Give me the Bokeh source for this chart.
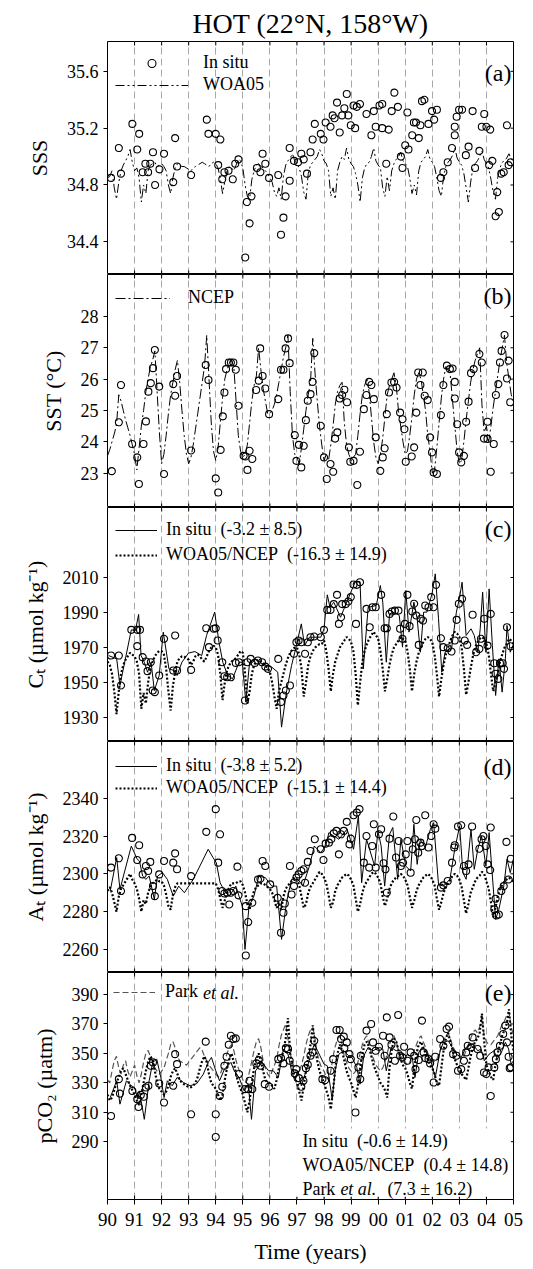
import numpy as np
from bokeh.plotting import figure
from bokeh.layouts import column
from bokeh.models import (Range1d, FixedTicker, Grid, Legend, LegendItem,
                          Label, BoxAnnotation)
from bokeh.embed import file_html
from bokeh.resources import INLINE

FONT = "Liberation Serif"

# ---------------- axis / tick data ----------------
years = list(range(1990, 2006))
year_labels = ["90", "91", "92", "93", "94", "95", "96", "97", "98", "99",
               "00", "01", "02", "03", "04", "05"]
t_month = 1990 + np.arange(181) / 12.0

# ---------------- (a) SSS ----------------
sss_t = [1990.13, 1990.42, 1990.50, 1990.92, 1991.10, 1991.17, 1991.30, 1991.40, 1991.50,
         1991.58, 1991.68, 1991.76, 1991.92, 1992.09, 1992.43, 1992.50, 1992.57, 1993.09, 1993.67,
         1993.73, 1994.00, 1994.09, 1994.17, 1994.24, 1994.32, 1994.47, 1994.63, 1994.72, 1994.84,
         1995.09, 1995.15, 1995.25, 1995.32, 1995.52, 1995.65, 1995.73, 1995.83, 1995.97, 1996.31,
         1996.41, 1996.50, 1996.58, 1996.73, 1996.73, 1996.89, 1997.04, 1997.16, 1997.25, 1997.37,
         1997.50, 1997.58, 1997.66, 1997.88, 1997.98, 1998.06, 1998.24, 1998.32, 1998.39, 1998.48,
         1998.58, 1998.67, 1998.75, 1998.84, 1998.90, 1998.99, 1999.09, 1999.15, 1999.21, 1999.33,
         1999.57, 1999.75, 1999.84, 1999.91, 2000.05, 2000.15, 2000.15, 2000.30, 2000.39, 2000.50,
         2000.60, 2000.73, 2000.84, 2000.90, 2001.00, 2001.08, 2001.12, 2001.26, 2001.32, 2001.40,
         2001.50, 2001.56, 2001.62, 2001.71, 2001.86, 2001.99, 2002.07, 2002.17, 2002.32, 2002.41,
         2002.57, 2002.73, 2002.83, 2002.83, 2002.90, 2002.99, 2003.10, 2003.24, 2003.34, 2003.49,
         2003.58, 2003.74, 2003.83, 2003.92, 2004.00, 2004.10, 2004.14, 2004.22, 2004.34, 2004.40,
         2004.46, 2004.55, 2004.64, 2004.76, 2004.82, 2004.90]
sss_v = [34.85, 35.06, 34.88, 35.23, 35.05, 35.16, 34.89, 34.95, 34.89,
         34.95, 35.03, 34.80, 34.91, 35.02, 34.82, 35.13, 34.93, 34.87, 35.26,
         35.16, 35.16, 34.94, 35.12, 34.84, 34.89, 34.90, 34.84, 34.95, 34.98,
         34.29, 34.68, 34.53, 34.72, 34.92, 34.89, 35.02, 34.95, 34.85, 34.87,
         34.45, 34.57, 34.72, 34.83, 35.06, 34.97, 34.96, 35.02, 34.98, 34.88,
         35.03, 35.12, 35.23, 35.16, 35.12, 35.24, 35.21, 35.29, 35.27, 35.38,
         35.17, 35.29, 35.34, 35.44, 35.29, 35.22, 35.36, 35.20, 35.35, 35.37,
         35.30, 35.15, 35.32, 35.21, 35.36, 35.37, 35.20, 34.95, 35.19, 35.32,
         35.45, 35.35, 35.00, 34.92, 35.08, 35.31, 35.05, 35.15, 35.24, 35.24,
         35.13, 35.22, 35.39, 35.40, 35.23, 35.32, 35.26, 35.33, 34.85, 34.89,
         34.96, 35.06, 35.15, 35.21, 35.28, 35.33, 35.33, 35.01, 35.07, 35.32,
         34.92, 35.04, 35.21, 35.30, 35.21, 34.94, 35.19, 34.97, 34.58, 34.75,
         34.61, 34.88, 34.89, 35.22, 34.94, 34.96]
sss_woa05 = [
    34.85, 34.86, 34.90, 34.78, 34.70, 34.82, 34.90, 34.94, 34.97, 35.00, 35.05, 34.96,
    34.90, 34.92, 34.85, 34.68, 34.80, 34.74, 34.90, 34.94, 34.95, 34.96, 34.93, 34.94,
    34.95, 34.93, 34.90, 34.80, 34.74, 34.85, 34.92, 34.95, 34.94, 34.93, 34.93, 34.92,
    34.91, 34.90, 34.92, 34.93, 34.94, 34.95, 34.96, 34.95, 34.94, 34.93, 34.95, 34.96,
    34.95, 34.92, 34.85, 34.74, 34.82, 34.90, 34.93, 34.92, 34.90, 34.94, 34.98, 34.97,
    34.92, 34.80, 34.72, 34.70, 34.84, 34.90, 34.94, 34.95, 34.93, 34.92, 34.90, 34.88,
    34.85, 34.82, 34.75, 34.72, 34.78, 34.70, 34.86, 34.94, 34.97, 34.99, 35.02, 34.97,
    34.95, 34.92, 34.86, 34.75, 34.70, 34.88, 34.94, 34.96, 34.98, 35.00, 35.05, 35.02,
    34.97, 34.95, 34.90, 34.72, 34.78, 34.70, 34.90, 34.96, 35.00, 34.98, 35.06, 34.98,
    34.95, 34.93, 34.88, 34.80, 34.68, 34.85, 34.92, 34.95, 34.96, 35.00, 35.06, 34.97,
    34.94, 34.92, 34.78, 34.72, 34.86, 34.76, 34.90, 34.95, 34.98, 35.00, 35.03, 34.97,
    34.95, 34.93, 34.85, 34.74, 34.80, 34.73, 34.90, 34.96, 34.98, 35.00, 35.05, 34.98,
    34.96, 34.93, 34.85, 34.76, 34.72, 34.86, 34.93, 34.96, 34.98, 35.01, 35.06, 34.99,
    34.96, 34.94, 34.88, 34.78, 34.68, 34.82, 34.92, 34.95, 34.97, 35.00, 35.04, 34.98,
    34.95, 34.92, 34.84, 34.75, 34.70, 34.85, 34.92, 34.96, 34.97, 34.99, 35.02, 34.98,
    34.97]

# ---------------- (b) SST ----------------
sst_t = [1990.16, 1990.42, 1990.50, 1990.91, 1991.10, 1991.16, 1991.33, 1991.42, 1991.51, 1991.60,
         1991.68, 1991.75, 1991.91, 1992.09, 1992.43, 1992.50, 1992.57, 1993.09, 1993.63, 1993.73,
         1994.00, 1994.09, 1994.18, 1994.26, 1994.32, 1994.38, 1994.48, 1994.56, 1994.65, 1994.74,
         1994.84, 1995.03, 1995.10, 1995.17, 1995.25, 1995.35, 1995.49, 1995.59, 1995.64, 1995.73,
         1995.83, 1995.97, 1996.31, 1996.41, 1996.50, 1996.58, 1996.67, 1996.73, 1996.92, 1996.98,
         1997.07, 1997.16, 1997.25, 1997.33, 1997.40, 1997.50, 1997.58, 1997.64, 1997.88, 1998.00,
         1998.10, 1998.24, 1998.34, 1998.41, 1998.49, 1998.58, 1998.67, 1998.75, 1998.85, 1998.92,
         1998.97, 1999.09, 1999.23, 1999.33, 1999.47, 1999.57, 1999.67, 1999.75, 1999.84, 1999.91,
         2000.08, 2000.17, 2000.24, 2000.32, 2000.40, 2000.49, 2000.59, 2000.68, 2000.81, 2000.90,
         2000.97, 2001.02, 2001.24, 2001.33, 2001.41, 2001.48, 2001.56, 2001.65, 2001.72, 2001.83,
         2001.92, 2001.99, 2002.05, 2002.17, 2002.32, 2002.41, 2002.54, 2002.65, 2002.75, 2002.83,
         2002.83, 2002.92, 2002.99, 2003.07, 2003.17, 2003.25, 2003.34, 2003.43, 2003.53, 2003.74,
         2003.83, 2003.91, 2004.04, 2004.04, 2004.16, 2004.27, 2004.35, 2004.44, 2004.50, 2004.56,
         2004.67, 2004.76, 2004.82, 2004.88]
sst_v = [23.06, 24.62, 25.81, 23.93, 23.50, 22.65, 23.93, 24.65, 25.60, 25.87,
         26.35, 26.93, 25.76, 22.97, 25.84, 25.47, 26.10, 23.72, 26.45, 25.97,
         22.83, 22.38, 23.74, 24.81, 25.57, 26.32, 26.53, 26.53, 26.53, 26.30,
         25.15, 23.55, 23.53, 23.10, 23.71, 23.45, 25.65, 25.95, 26.98, 26.10,
         25.70, 24.88, 25.36, 26.30, 26.30, 26.98, 27.30, 26.51, 24.21, 23.39,
         23.90, 23.18, 23.87, 24.69, 25.31, 25.52, 25.91, 26.83, 24.51, 23.50,
         22.81, 23.29, 23.04, 24.10, 24.30, 25.38, 25.49, 25.66, 25.26, 23.82,
         23.36, 23.39, 22.62, 23.68, 25.04, 25.49, 25.91, 25.81, 25.36, 24.14,
         23.07, 23.50, 23.79, 24.88, 25.57, 25.89, 25.91, 25.73, 24.93, 24.72,
         24.40, 23.36, 23.53, 23.82, 24.93, 26.21, 25.81, 26.21, 25.47, 25.33,
         24.14, 23.66, 23.02, 22.97, 24.85, 25.81, 26.43, 26.32, 26.34, 25.91,
         25.38, 24.56, 23.66, 23.34, 23.55, 24.64, 25.28, 26.19, 26.32, 26.80,
         26.53, 24.10, 24.64, 24.09, 23.04, 23.93, 25.49, 25.84, 26.53, 26.90,
         27.41, 26.02, 26.59, 25.26]
sst_ncep = [
    23.55, 23.75, 24.00, 24.25, 24.55, 25.50, 25.30, 25.00, 24.70, 24.45, 24.20, 23.90,
    23.60, 23.10, 23.80, 24.50, 25.00, 25.60, 26.00, 26.40, 26.60, 26.90, 25.60, 24.30,
    23.30, 23.60, 24.20, 24.90, 25.50, 25.90, 26.30, 26.60, 25.90, 25.00, 24.20, 23.60,
    23.30, 23.50, 23.90, 24.40, 24.90, 25.40, 25.90, 26.40, 27.40, 26.00, 24.60, 23.70,
    23.40, 23.80, 24.60, 25.40, 26.00, 26.30, 26.50, 26.60, 26.40, 25.30, 24.20, 23.70,
    23.50, 23.60, 23.90, 24.60, 25.30, 25.80, 26.10, 27.00, 26.30, 25.70, 25.30, 24.90,
    24.90, 25.00, 25.20, 25.50, 25.90, 26.30, 26.70, 27.00, 27.40, 25.60, 24.20, 23.60,
    23.50, 23.30, 23.80, 24.40, 25.00, 25.50, 25.90, 27.30, 26.20, 25.30, 24.50, 23.90,
    23.40, 23.60, 23.40, 23.90, 24.50, 25.20, 25.60, 25.80, 25.90, 24.60, 23.90, 23.60,
    23.40, 23.50, 23.60, 24.20, 24.90, 25.50, 25.80, 26.00, 25.60, 24.80, 24.00, 23.50,
    23.30, 23.60, 24.10, 24.80, 25.50, 25.80, 26.00, 26.20, 25.80, 25.00, 24.50, 24.00,
    23.60, 23.70, 24.20, 24.80, 25.50, 26.00, 26.20, 26.00, 25.50, 25.00, 24.20, 23.70,
    23.00, 23.10, 23.80, 24.60, 25.40, 26.00, 26.40, 26.30, 26.10, 25.30, 24.50, 23.70,
    23.30, 23.40, 24.00, 24.70, 25.30, 25.90, 26.30, 26.60, 26.80, 27.00, 25.20, 24.30,
    24.50, 24.00, 24.50, 25.10, 25.60, 26.10, 26.60, 27.00, 27.40, 26.50, 26.00, 25.50,
    25.30]

# ---------------- (c) CT ----------------
ct_t = [1990.13, 1990.42, 1990.50, 1990.88, 1991.10, 1991.10, 1991.20, 1991.30, 1991.42, 1991.48,
        1991.60, 1991.67, 1991.75, 1991.91, 1992.09, 1992.43, 1992.50, 1992.57, 1993.09, 1993.65,
        1993.75, 1993.93, 1994.00, 1994.07, 1994.24, 1994.32, 1994.42, 1994.56, 1994.74, 1994.86,
        1995.08, 1995.17, 1995.29, 1995.44, 1995.56, 1995.71, 1995.83, 1995.93, 1996.31, 1996.41,
        1996.50, 1996.59, 1996.74, 1996.89, 1996.98, 1997.06, 1997.16, 1997.30, 1997.40, 1997.50,
        1997.64, 1997.88, 1998.00, 1998.12, 1998.24, 1998.36, 1998.48, 1998.55, 1998.63, 1998.67,
        1998.80, 1998.90, 1998.99, 1999.09, 1999.18, 1999.21, 1999.33, 1999.57, 1999.69, 1999.79,
        1999.91, 2000.11, 2000.24, 2000.32, 2000.42, 2000.51, 2000.62, 2000.75, 2000.81, 2000.90,
        2000.99, 2001.08, 2001.16, 2001.26, 2001.33, 2001.41, 2001.50, 2001.58, 2001.66, 2001.74,
        2001.86, 2001.96, 2002.05, 2002.14, 2002.32, 2002.41, 2002.57, 2002.71, 2002.83, 2002.90,
        2002.98, 2003.10, 2003.20, 2003.29, 2003.49, 2003.62, 2003.74, 2003.80, 2003.92, 2004.04,
        2004.16, 2004.29, 2004.34, 2004.44, 2004.50, 2004.60, 2004.65, 2004.76, 2004.89]
ct_v = [1965.4, 1965.4, 1948.3, 1980.1, 1980.1, 1970.8, 1980.1, 1964.5, 1962.0, 1956.5,
        1961.6, 1945.4, 1944.5, 1954.0, 1975.0, 1956.9, 1976.9, 1956.9, 1957.2, 1981.0,
        1970.2, 1980.7, 1981.0, 1974.0, 1961.6, 1953.6, 1953.0, 1953.0, 1961.2, 1961.6,
        1939.7, 1961.6, 1963.5, 1961.2, 1962.6, 1961.6, 1959.1, 1957.8, 1963.5, 1938.8,
        1942.6, 1945.4, 1948.3, 1966.4, 1973.0, 1974.0, 1973.0, 1966.4, 1973.0, 1975.9,
        1976.3, 1975.9, 1980.1, 1991.5, 1991.5, 1994.8, 2000.1, 1983.5, 1987.3, 1994.8,
        1994.8, 1996.3, 1998.8, 2006.0, 1983.5, 2005.8, 2007.3, 1992.1, 1981.6, 1993.0,
        1993.0, 2000.1, 1981.0, 1981.0, 1989.2, 1990.6, 1991.1, 1991.1, 1980.7, 1975.0,
        1983.5, 2000.1, 1982.2, 1990.6, 1995.0, 1988.3, 1971.5, 1986.4, 1985.4, 1994.0,
        1993.0, 1998.8, 1993.0, 2005.8, 1975.3, 1970.2, 1969.6, 1967.7, 1974.0, 1985.8,
        1995.0, 1997.8, 1974.0, 1971.5, 1988.7, 1967.3, 1969.2, 1975.0, 1986.4, 1971.1,
        1989.2, 1961.0, 1955.0, 1952.1, 1961.0, 1961.0, 1957.8, 1981.6, 1970.7]
ctm_t = [1990.04, 1990.34, 1990.46, 1990.88, 1991.03, 1991.15, 1991.24, 1991.36, 1991.48, 1991.61,
         1991.73, 1991.91, 1992.06, 1992.27, 1992.45, 1992.57, 1992.75, 1992.99, 1993.23, 1993.48,
         1993.66, 1993.96, 1994.12, 1994.26, 1994.44, 1994.62, 1994.86, 1994.98, 1995.11, 1995.25,
         1995.47, 1995.71, 1995.89, 1996.07, 1996.29, 1996.43, 1996.61, 1996.80, 1996.92, 1997.16,
         1997.28, 1997.46, 1997.64, 1997.88, 1998.00, 1998.12, 1998.22, 1998.36, 1998.46, 1998.61,
         1998.85, 1998.99, 1999.15, 1999.33, 1999.45, 1999.63, 1999.93, 2000.08, 2000.17, 2000.30,
         2000.42, 2000.60, 2000.78, 2000.90, 2001.02, 2001.14, 2001.32, 2001.44, 2001.56, 2001.68,
         2001.80, 2001.99, 2002.11, 2002.23, 2002.35, 2002.47, 2002.71, 2002.89, 2003.01, 2003.10,
         2003.25, 2003.43, 2003.55, 2003.68, 2003.77, 2003.86, 2003.98, 2004.10, 2004.22, 2004.34,
         2004.46, 2004.58, 2004.70, 2004.76, 2004.88, 2005.00]
ctm_v = [1965.4, 1963.5, 1948.3, 1980.1, 1979.7, 1988.9, 1965.4, 1961.6, 1955.9, 1961.6,
         1945.4, 1954.0, 1978.8, 1957.8, 1956.9, 1954.0, 1961.6, 1966.8, 1967.7, 1965.4,
         1976.9, 1990.2, 1973.0, 1961.6, 1954.0, 1952.1, 1961.6, 1961.6, 1938.8, 1961.6,
         1963.5, 1960.7, 1959.7, 1958.8, 1955.9, 1924.5, 1944.5, 1959.7, 1967.3, 1983.5,
         1971.1, 1975.9, 1975.9, 1975.9, 1980.7, 2000.1, 1993.0, 1995.9, 1992.5, 1987.3,
         1996.3, 2001.6, 2007.3, 2007.7, 1957.8, 1993.0, 1994.0, 2005.4, 1995.9, 1961.6,
         1989.2, 1990.2, 1988.3, 1970.2, 2002.6, 1978.8, 1995.9, 1986.4, 1967.3, 1990.2,
         1990.2, 2000.7, 2012.1, 1986.4, 1955.9, 1967.3, 1969.2, 1990.2, 1998.8, 2007.3,
         1976.9, 1980.7, 1976.9, 1967.3, 1980.7, 2001.6, 1967.3, 2003.5, 1971.1, 1942.6,
         1963.5, 1944.5, 1963.5, 1982.6, 1967.3, 1972.0]
ct_woa = [
    1962, 1960, 1955, 1945, 1932, 1945, 1955, 1960, 1963, 1965, 1967, 1966,
    1965, 1962, 1955, 1935, 1944, 1938, 1950, 1958, 1962, 1965, 1967, 1968,
    1968, 1966, 1958, 1945, 1934, 1948, 1956, 1962, 1964, 1965, 1965, 1964,
    1963, 1960, 1962, 1965, 1966, 1965, 1963, 1962, 1965, 1968, 1970, 1971,
    1970, 1966, 1955, 1940, 1950, 1957, 1960, 1962, 1963, 1964, 1966, 1968,
    1967, 1955, 1938, 1945, 1955, 1960, 1962, 1963, 1962, 1961, 1960, 1958,
    1956, 1950, 1942, 1935, 1945, 1950, 1955, 1960, 1964, 1967, 1969, 1970,
    1970, 1966, 1958, 1942, 1950, 1960, 1965, 1968, 1970, 1971, 1972, 1972,
    1974, 1968, 1958, 1945, 1955, 1962, 1966, 1970, 1972, 1974, 1976, 1975,
    1973, 1968, 1955, 1937, 1950, 1962, 1968, 1972, 1975, 1977, 1979, 1977,
    1975, 1968, 1958, 1945, 1952, 1960, 1966, 1970, 1972, 1974, 1976, 1975,
    1974, 1968, 1958, 1945, 1955, 1962, 1967, 1970, 1973, 1975, 1976, 1975,
    1973, 1966, 1955, 1942, 1952, 1960, 1966, 1970, 1974, 1977, 1979, 1978,
    1976, 1970, 1958, 1943, 1950, 1958, 1965, 1970, 1973, 1975, 1976, 1975,
    1972, 1966, 1955, 1945, 1950, 1955, 1962, 1966, 1970, 1972, 1975, 1974,
    1972]

# ---------------- (d) AT ----------------
at_t = [1990.13, 1990.42, 1990.50, 1990.91, 1991.10, 1991.17, 1991.30, 1991.42, 1991.50, 1991.58,
        1991.68, 1991.75, 1991.91, 1992.09, 1992.43, 1992.50, 1992.57, 1993.09, 1993.65, 1994.00,
        1994.09, 1994.16, 1994.24, 1994.32, 1994.42, 1994.50, 1994.56, 1994.65, 1994.80, 1994.84,
        1995.11, 1995.11, 1995.20, 1995.35, 1995.56, 1995.65, 1995.73, 1995.83, 1996.01, 1996.29,
        1996.41, 1996.50, 1996.55, 1996.74, 1996.80, 1996.89, 1996.98, 1997.06, 1997.16, 1997.25,
        1997.30, 1997.40, 1997.50, 1997.66, 1997.88, 1997.98, 1998.06, 1998.18, 1998.27, 1998.36,
        1998.46, 1998.55, 1998.63, 1998.73, 1998.84, 1998.94, 1998.99, 1999.09, 1999.21, 1999.31,
        1999.47, 1999.57, 1999.67, 1999.78, 1999.84, 1999.91, 2000.03, 2000.11, 2000.20, 2000.27,
        2000.32, 2000.42, 2000.56, 2000.66, 2000.76, 2000.84, 2000.92, 2001.02, 2001.08, 2001.20,
        2001.28, 2001.36, 2001.41, 2001.48, 2001.56, 2001.62, 2001.74, 2001.86, 2001.96, 2002.05,
        2002.11, 2002.32, 2002.41, 2002.57, 2002.73, 2002.81, 2002.83, 2002.95, 2003.07, 2003.17,
        2003.25, 2003.34, 2003.47, 2003.74, 2003.82, 2003.89, 2003.98, 2004.04, 2004.14, 2004.16,
        2004.29, 2004.34, 2004.37, 2004.46, 2004.55, 2004.64, 2004.74, 2004.82, 2004.90]
at_v = [2303.3, 2308.2, 2290.9, 2319.0, 2307.3, 2315.1, 2299.7, 2304.1, 2301.5, 2306.3,
        2293.5, 2288.2, 2299.7, 2306.8, 2305.9, 2310.8, 2302.4, 2298.8, 2322.2, 2334.2,
        2305.9, 2320.9, 2290.9, 2289.6, 2290.0, 2283.8, 2290.0, 2290.9, 2303.8, 2288.6,
        2282.9, 2256.8, 2274.5, 2284.7, 2297.0, 2297.4, 2306.8, 2304.1, 2294.4, 2287.3,
        2268.8, 2279.4, 2284.3, 2304.1, 2289.1, 2293.5, 2298.0, 2299.7, 2301.5, 2302.4,
        2295.3, 2306.3, 2312.1, 2318.3, 2313.0, 2307.3, 2316.0, 2316.5, 2318.3, 2321.4,
        2322.7, 2310.3, 2320.9, 2322.7, 2327.5, 2315.6, 2318.6, 2331.0, 2332.4, 2334.2,
        2305.9, 2320.0, 2303.3, 2314.7, 2326.2, 2303.3, 2320.9, 2323.6, 2305.6, 2302.4,
        2290.0, 2318.6, 2330.3, 2308.6, 2317.4, 2304.1, 2305.9, 2310.3, 2317.4, 2300.6,
        2313.0, 2318.3, 2328.5, 2311.2, 2316.5, 2314.7, 2331.0, 2313.9, 2320.0, 2326.2,
        2323.9, 2292.7, 2293.9, 2296.2, 2305.9, 2313.9, 2315.1, 2325.0, 2325.7, 2304.1,
        2301.5, 2305.0, 2325.0, 2313.3, 2318.3, 2320.0, 2314.7, 2305.0, 2302.0, 2324.5,
        2281.2, 2286.8, 2278.0, 2278.5, 2290.9, 2293.5, 2316.9, 2297.0, 2308.0]
atm_t = [1990.10, 1990.34, 1990.46, 1990.88, 1991.10, 1991.18, 1991.30, 1991.42, 1991.54, 1991.73,
         1991.85, 1992.03, 1992.21, 1992.43, 1992.63, 1992.84, 1993.17, 1993.72, 1993.90, 1994.02,
         1994.16, 1994.32, 1994.50, 1994.74, 1994.86, 1994.98, 1995.08, 1995.23, 1995.41, 1995.59,
         1995.83, 1996.07, 1996.25, 1996.43, 1996.61, 1996.80, 1997.04, 1997.22, 1997.46, 1997.64,
         1997.88, 1998.06, 1998.18, 1998.36, 1998.55, 1998.85, 1999.09, 1999.27, 1999.39, 1999.57,
         1999.87, 1999.99, 2000.11, 2000.24, 2000.42, 2000.54, 2000.72, 2000.84, 2001.02, 2001.20,
         2001.32, 2001.44, 2001.56, 2001.74, 2001.93, 2002.05, 2002.23, 2002.41, 2002.65, 2002.83,
         2003.01, 2003.13, 2003.25, 2003.43, 2003.55, 2003.68, 2003.82, 2003.98, 2004.10, 2004.22,
         2004.34, 2004.46, 2004.64, 2004.76, 2004.88, 2005.00]
atm_v = [2290.9, 2308.6, 2291.8, 2314.7, 2307.7, 2306.8, 2298.8, 2297.1, 2298.8, 2286.5,
         2298.8, 2300.6, 2297.1, 2288.2, 2293.5, 2290.0, 2297.1, 2313.0, 2308.6, 2305.9,
         2295.3, 2290.9, 2288.2, 2293.5, 2288.2, 2282.9, 2260.0, 2282.9, 2288.2, 2298.8,
         2298.0, 2293.5, 2293.5, 2265.3, 2284.7, 2297.1, 2297.1, 2293.5, 2304.1, 2314.7,
         2311.2, 2314.7, 2321.8, 2320.0, 2318.3, 2323.6, 2313.0, 2330.6, 2295.3, 2318.3,
         2304.1, 2322.7, 2314.7, 2293.5, 2320.9, 2324.5, 2297.1, 2318.3, 2304.1, 2301.5,
         2326.2, 2305.0, 2318.3, 2313.9, 2323.6, 2327.1, 2294.4, 2293.5, 2297.1, 2313.0,
         2325.3, 2300.6, 2297.1, 2323.6, 2302.4, 2313.0, 2320.0, 2304.1, 2321.8, 2298.8,
         2275.9, 2281.2, 2293.5, 2307.7, 2300.6, 2308.0]
at_woa = [
    2291, 2293, 2290, 2285, 2280, 2288, 2292, 2294, 2296, 2298, 2300, 2297,
    2295, 2292, 2287, 2280, 2286, 2284, 2290, 2293, 2295, 2296, 2297, 2296,
    2296, 2294, 2289, 2283, 2281, 2289, 2293, 2295, 2295, 2295, 2295, 2295,
    2295, 2295, 2295, 2295, 2295, 2295, 2295, 2295, 2295, 2295, 2295, 2295,
    2295, 2292, 2287, 2282, 2286, 2290, 2293, 2295, 2295, 2295, 2296, 2296,
    2294, 2290, 2284, 2281, 2287, 2291, 2293, 2294, 2295, 2295, 2294, 2293,
    2292, 2290, 2286, 2282, 2285, 2281, 2288, 2292, 2294, 2295, 2297, 2298,
    2297, 2294, 2288, 2282, 2284, 2290, 2293, 2295, 2297, 2299, 2301, 2300,
    2298, 2295, 2289, 2282, 2285, 2291, 2294, 2296, 2298, 2299, 2300, 2299,
    2297, 2294, 2287, 2280, 2284, 2290, 2294, 2296, 2298, 2300, 2301, 2300,
    2298, 2295, 2288, 2283, 2287, 2292, 2295, 2297, 2298, 2299, 2300, 2299,
    2297, 2294, 2288, 2282, 2286, 2291, 2294, 2296, 2298, 2299, 2300, 2299,
    2297, 2294, 2287, 2281, 2285, 2290, 2293, 2295, 2297, 2299, 2300, 2299,
    2297, 2293, 2286, 2279, 2284, 2290, 2293, 2296, 2298, 2299, 2301, 2300,
    2296, 2292, 2285, 2277, 2282, 2288, 2292, 2294, 2296, 2297, 2298, 2297,
    2296]

# ---------------- (e) pCO2 ----------------
pc_t = [1990.13, 1990.42, 1990.46, 1990.92, 1991.10, 1991.15, 1991.23, 1991.34, 1991.42, 1991.51,
        1991.60, 1991.68, 1991.91, 1992.09, 1992.43, 1992.50, 1992.57, 1993.09, 1993.63, 1994.00,
        1994.00, 1994.15, 1994.24, 1994.32, 1994.40, 1994.48, 1994.56, 1994.65, 1994.74, 1994.86,
        1995.08, 1995.20, 1995.25, 1995.35, 1995.50, 1995.59, 1995.65, 1995.81, 1995.97, 1996.31,
        1996.41, 1996.50, 1996.59, 1996.67, 1996.73, 1996.92, 1996.98, 1997.07, 1997.16, 1997.24,
        1997.33, 1997.40, 1997.50, 1997.58, 1997.64, 1997.94, 1998.04, 1998.24, 1998.34, 1998.46,
        1998.58, 1998.63, 1998.73, 1998.75, 1998.84, 1998.94, 1998.99, 1999.16, 1999.27, 1999.34,
        1999.36, 1999.57, 1999.74, 1999.81, 1999.91, 2000.03, 2000.18, 2000.24, 2000.32, 2000.42,
        2000.49, 2000.62, 2000.74, 2000.81, 2000.90, 2000.96, 2001.08, 2001.20, 2001.33, 2001.38,
        2001.50, 2001.62, 2001.68, 2001.74, 2001.86, 2001.92, 2002.05, 2002.11, 2002.29, 2002.41,
        2002.53, 2002.62, 2002.77, 2002.89, 2002.95, 2003.07, 2003.17, 2003.25, 2003.31, 2003.44,
        2003.49, 2003.67, 2003.77, 2003.91, 2004.00, 2004.08, 2004.16, 2004.29, 2004.35, 2004.41,
        2004.50, 2004.62, 2004.70, 2004.76, 2004.82, 2004.86, 2004.90]
pc_v = [307.5, 332.5, 322.7, 324.5, 318.9, 313.6, 321.8, 320.5, 326.8, 328.0,
        341.6, 343.9, 329.5, 316.6, 328.0, 349.5, 342.7, 308.6, 358.0, 308.6,
        293.2, 321.1, 327.3, 341.6, 347.7, 355.9, 362.0, 359.8, 360.2, 336.0,
        325.7, 325.7, 331.4, 325.7, 343.2, 345.5, 341.6, 329.1, 327.3, 346.1,
        346.8, 343.2, 353.6, 352.9, 345.0, 336.4, 339.3, 333.2, 327.3, 331.4,
        340.0, 342.3, 348.4, 350.7, 358.6, 332.5, 331.8, 338.2, 346.1, 365.9,
        365.9, 359.8, 361.4, 353.6, 357.5, 349.5, 346.1, 309.8, 340.5, 332.5,
        348.4, 365.5, 370.0, 357.5, 351.8, 354.5, 362.0, 348.4, 374.5, 360.9,
        355.9, 345.0, 376.1, 348.4, 347.3, 354.5, 345.0, 350.7, 348.4, 339.3,
        345.5, 372.3, 350.7, 346.8, 346.1, 343.2, 330.2, 347.7, 359.8, 355.2,
        366.6, 368.2, 349.5, 348.4, 338.2, 339.3, 345.0, 350.7, 355.2, 354.1,
        360.9, 353.0, 348.4, 337.0, 336.0, 340.5, 321.1, 340.5, 346.1, 350.7,
        355.2, 363.2, 368.9, 357.5, 347.7, 340.0, 340.6]
pcm_t = [1990.10, 1990.34, 1990.46, 1990.70, 1990.88, 1991.00, 1991.12, 1991.18, 1991.36, 1991.54,
         1991.67, 1991.82, 1991.97, 1992.09, 1992.21, 1992.39, 1992.57, 1992.81, 1993.05, 1993.30,
         1993.54, 1993.72, 1993.84, 1994.00, 1994.14, 1994.32, 1994.56, 1994.68, 1994.86, 1995.05,
         1995.20, 1995.32, 1995.47, 1995.71, 1995.95, 1996.13, 1996.31, 1996.49, 1996.67, 1996.80,
         1996.92, 1997.04, 1997.16, 1997.34, 1997.52, 1997.64, 1997.76, 1998.00, 1998.12, 1998.30,
         1998.42, 1998.55, 1998.73, 1998.91, 1999.03, 1999.21, 1999.33, 1999.47, 1999.63, 1999.81,
         2000.05, 2000.17, 2000.30, 2000.48, 2000.66, 2000.84, 2000.96, 2001.08, 2001.26, 2001.36,
         2001.50, 2001.62, 2001.74, 2001.93, 2002.11, 2002.29, 2002.41, 2002.59, 2002.77, 2002.89,
         2003.07, 2003.25, 2003.49, 2003.68, 2003.80, 2003.92, 2004.10, 2004.28, 2004.40, 2004.58,
         2004.70, 2004.82, 2004.91, 2005.00]
pcm_v = [320.0, 331.4, 315.5, 331.4, 328.0, 326.8, 318.9, 324.5, 305.2, 331.4,
         343.9, 346.1, 333.6, 320.0, 331.4, 328.0, 333.6, 330.2, 328.0, 329.5,
         335.9, 343.9, 347.3, 338.2, 331.4, 339.3, 343.9, 338.2, 333.6, 324.5,
         329.1, 305.2, 338.2, 343.9, 338.2, 338.2, 333.6, 351.8, 349.5, 338.2,
         331.4, 338.2, 328.0, 338.2, 349.5, 356.4, 351.8, 342.7, 341.6, 318.9,
         339.3, 349.5, 351.8, 348.4, 347.3, 340.5, 329.1, 348.4, 354.1, 351.8,
         354.1, 353.0, 338.2, 354.1, 351.8, 351.8, 346.1, 349.5, 347.3, 333.6,
         350.7, 354.1, 351.8, 346.1, 333.6, 351.8, 357.5, 358.6, 353.0, 349.5,
         347.3, 354.1, 356.4, 351.8, 353.0, 345.0, 349.5, 351.8, 346.1, 351.8,
         357.5, 353.0, 342.7, 345.0]
pc_woa = [
    322, 318, 320, 325, 330, 334, 338, 340, 336, 332, 328, 325,
    322, 318, 315, 322, 330, 338, 344, 348, 346, 338, 330, 326,
    324, 322, 324, 328, 334, 338, 340, 336, 332, 330, 329, 328,
    327, 327, 328, 330, 334, 340, 345, 348, 344, 336, 330, 328,
    326, 322, 318, 322, 332, 340, 346, 350, 344, 336, 330, 326,
    322, 316, 310, 318, 330, 340, 346, 350, 345, 338, 332, 330,
    330, 328, 326, 332, 340, 346, 352, 360, 374, 350, 340, 334,
    330, 324, 318, 328, 338, 348, 356, 369, 355, 345, 338, 334,
    330, 325, 320, 312, 325, 340, 350, 356, 352, 345, 338, 334,
    330, 325, 320, 328, 340, 350, 356, 358, 354, 348, 342, 338,
    334, 330, 328, 325, 320, 340, 352, 360, 358, 352, 346, 342,
    340, 336, 330, 326, 340, 350, 356, 358, 354, 350, 346, 342,
    340, 336, 330, 328, 340, 352, 360, 364, 358, 352, 346, 342,
    340, 336, 334, 332, 340, 348, 354, 358, 360, 364, 377, 358,
    342, 338, 334, 332, 342, 350, 356, 362, 366, 370, 380, 362,
    352]
pc_park = [
    332, 330, 338, 345, 348, 340, 336, 342, 345, 338, 334, 338,
    342, 335, 330, 336, 344, 350, 352, 348, 344, 340, 338, 336,
    338, 340, 345, 350, 356, 358, 354, 348, 345, 344, 343, 342,
    344, 346, 348, 350, 352, 354, 352, 348, 345, 342, 340, 338,
    336, 334, 336, 340, 345, 350, 354, 356, 352, 345, 340, 336,
    332, 330, 332, 338, 345, 352, 358, 360, 354, 345, 340, 336,
    334, 338, 342, 346, 355, 362, 366, 370, 360, 350, 344, 340,
    336, 338, 342, 348, 356, 362, 366, 368, 360, 350, 344, 340,
    338, 334, 332, 338, 348, 355, 360, 362, 356, 348, 344, 340,
    338, 336, 338, 344, 350, 356, 360, 362, 356, 350, 346, 342,
    340, 338, 340, 344, 350, 356, 360, 362, 358, 352, 348, 346,
    344, 342, 344, 348, 352, 356, 360, 362, 358, 354, 350, 348,
    346, 344, 346, 350, 354, 358, 362, 364, 360, 355, 352, 350,
    348, 346, 348, 352, 356, 360, 364, 366, 364, 368, 375, 362,
    358, 356, 356, 358, 360, 362, 366, 370, 372, 376, 378, 368,
    362]

NB = "\u00a0"
inner_years = years[1:-1]


# ---------------- helpers ----------------
def make_fig(h, fh, yr, ticks, ylabel, top=0, bottom=0, show_x=False, title=None):
    p = figure(width=525, height=h, x_range=Range1d(1990, 2005), y_range=Range1d(*yr),
               output_backend="svg", toolbar_location=None, tools="",
               x_axis_location="below" if show_x else None, y_axis_location="left",
               min_border_left=107, min_border_right=12, min_border_top=top,
               min_border_bottom=bottom, title=title)
    p.outline_line_color = "black"
    p.outline_line_width = 1
    p.background_fill_color = "white"
    p.border_fill_color = "white"
    p.xgrid.visible = False
    p.ygrid.visible = False
    p.add_layout(Grid(dimension=0, ticker=FixedTicker(ticks=inner_years),
                      grid_line_color="#a8a8a8", grid_line_dash="7 4", grid_line_width=1), "center")
    # short year ticks along the top and bottom edges of the frame
    d = (yr[1] - yr[0]) * 4.0 / fh
    n = len(inner_years)
    p.segment(x0=inner_years, x1=inner_years, y0=[yr[1]] * n, y1=[yr[1] - d] * n,
              line_color="black", line_width=1)
    p.segment(x0=inner_years, x1=inner_years, y0=[yr[0]] * n, y1=[yr[0] + d] * n,
              line_color="black", line_width=1)
    # short ticks on the right edge
    dx = 15.0 * 3.0 / 406
    p.segment(x0=[2005 - dx] * len(ticks), x1=[2005] * len(ticks), y0=ticks, y1=ticks,
              line_color="black", line_width=1)
    ax = p.yaxis[0]
    ax.ticker = FixedTicker(ticks=ticks)
    ax.axis_line_color = None
    ax.major_tick_out = 4
    ax.major_tick_in = 0
    ax.major_tick_line_color = "black"
    ax.major_label_standoff = 5
    ax.major_label_text_font = FONT
    ax.major_label_text_font_size = "18px"
    ax.major_label_text_color = "black"
    ax.axis_label = ylabel
    ax.axis_label_text_font = FONT
    ax.axis_label_text_font_size = "22px"
    ax.axis_label_text_font_style = "normal"
    ax.axis_label_text_color = "black"
    ax.axis_label_standoff = 12
    if show_x:
        xa = p.xaxis[0]
        xa.ticker = FixedTicker(ticks=years)
        xa.major_label_overrides = {y: s for y, s in zip(years, year_labels)}
        xa.axis_line_color = None
        xa.major_tick_out = 5
        xa.major_tick_in = 0
        xa.major_tick_line_color = "black"
        xa.major_label_standoff = 8
        xa.major_label_text_font = FONT
        xa.major_label_text_font_size = "19px"
        xa.major_label_text_color = "black"
        xa.axis_label = "Time (years)"
        xa.axis_label_text_font = FONT
        xa.axis_label_text_font_size = "22px"
        xa.axis_label_text_font_style = "normal"
        xa.axis_label_text_color = "black"
        xa.axis_label_standoff = 10
    return p


def add_leg(p, r, text, loc, gw, standoff):
    leg = Legend(items=[LegendItem(label=text, renderers=[r])], location=loc,
                 glyph_width=gw, glyph_height=20, label_standoff=standoff, padding=0, margin=0,
                 spacing=0, border_line_color=None, background_fill_alpha=0,
                 label_text_font=FONT, label_text_font_size="18px", label_height=20,
                 label_text_color="black")
    p.add_layout(leg)


def panel_tag(p, x, y, text):
    p.add_layout(Label(x=x, y=y, text=text, text_align="right", text_baseline="middle",
                       x_offset=-2, text_font=FONT, text_font_size="24px", text_color="black"))


def circles(p, t, v):
    return p.scatter(t, v, marker="circle", size=7, fill_color=None, line_color="black",
                     line_width=1.1)


# ---------------- (a) ----------------
pa = make_fig(274, 233, (34.17, 35.81), [34.4, 34.8, 35.2, 35.6], "SSS", top=41,
              title="HOT (22°N, 158°W)")
pa.title.text_font = FONT
pa.title.text_font_size = "28px"
pa.title.text_font_style = "normal"
pa.title.text_color = "black"
pa.title.align = "center"
pa.title.standoff = 6
la = pa.line(t_month, sss_woa05, line_color="black", line_width=1, line_dash="9 3 2 3 2 3")
ca = circles(pa, sss_t, sss_v)
add_leg(pa, ca, "In situ", (8, 201), 73, 15)
add_leg(pa, la, "WOA05", (8, 179), 73, 15)
panel_tag(pa, 2005, 35.59, "(a)")

# ---------------- (b) ----------------
pb = make_fig(233, 233, (21.9, 29.34), [23, 24, 25, 26, 27, 28], "SST (°C)")
lb = pb.line(t_month, sst_ncep, line_color="black", line_width=1, line_dash="10 3 2 3")
circles(pb, sst_t, sst_v)
add_leg(pb, lb, "NCEP", (8, 199), 55, 18)
panel_tag(pb, 2005, 28.64, "(b)")

# ---------------- (c) ----------------
pc = make_fig(234, 234, (1916.3, 2050), [1930, 1950, 1970, 1990, 2010], "Cₜ (µmol kg⁻¹)")
dc = pc.line(t_month, ct_woa, line_color="black", line_width=2.2, line_dash="2 2")
sc = pc.line(ctm_t, ctm_v, line_color="black", line_width=1)
circles(pc, ct_t, ct_v)
add_leg(pc, sc, "In situ" + NB + NB + "(-3.2 ± 8.5)", (8, 201), 42, 9)
add_leg(pc, dc, "WOA05/NCEP" + NB + NB + "(-16.3 ± 14.9)", (8, 176), 42, 9)
panel_tag(pc, 2005, 2038, "(c)")

# ---------------- (d) ----------------
pd_ = make_fig(231, 231, (2247.8, 2370), [2260, 2280, 2300, 2320, 2340], "Aₜ (µmol kg⁻¹)")
dd = pd_.line(t_month, at_woa, line_color="black", line_width=2.2, line_dash="2 2")
sd = pd_.line(atm_t, atm_v, line_color="black", line_width=1)
circles(pd_, at_t, at_v)
add_leg(pd_, sd, "In situ" + NB + NB + "(-3.8 ± 5.2)", (8, 196), 42, 9)
add_leg(pd_, dd, "WOA05/NCEP" + NB + NB + "(-15.1 ± 14.4)", (8, 174), 42, 9)
panel_tag(pd_, 2005, 2356.4, "(d)")

# ---------------- (e) ----------------
pe = make_fig(297, 227, (250.7, 405), [290, 310, 330, 350, 370, 390], "pCO₂ (µatm)",
              bottom=70, show_x=True)
ke = pe.line(t_month, pc_park, line_color="#555555", line_width=1.2, line_dash="6 3")
pe.line(t_month, pc_woa, line_color="black", line_width=2.2, line_dash="2 2")
pe.line(pcm_t, pcm_v, line_color="black", line_width=1)
circles(pe, pc_t, pc_v)
add_leg(pe, ke, "Park", (6, 197), 42, 10)
pe.add_layout(Label(x=1993.53, y=391.4, text="et al.", text_baseline="middle",
                    text_font=FONT, text_font_size="18px", text_font_style="italic",
                    text_color="black"))
panel_tag(pe, 2005, 391.4, "(e)")
pe.add_layout(BoxAnnotation(left=1996.1, right=2004.9, bottom=252.5, top=299,
                            fill_color="white", fill_alpha=1, line_alpha=0))
for yv, txt in [(290.7, "In situ" + NB + NB + "(-0.6 ± 14.9)"),
                (274.4, "WOA05/NCEP" + NB + NB + "(0.4 ± 14.8)")]:
    pe.add_layout(Label(x=1997.2, y=yv, text=txt, text_baseline="middle",
                        text_font=FONT, text_font_size="18px", text_color="black"))
pe.add_layout(Label(x=1997.2, y=258.1, text="Park", text_baseline="middle",
                    text_font=FONT, text_font_size="18px", text_color="black"))
pe.add_layout(Label(x=1997.2, y=258.1, x_offset=38, text="et al.", text_baseline="middle",
                    text_font=FONT, text_font_size="18px", text_font_style="italic",
                    text_color="black"))
pe.add_layout(Label(x=1997.2, y=258.1, x_offset=85, text="(7.3 ± 16.2)",
                    text_baseline="middle", text_font=FONT, text_font_size="18px",
                    text_color="black"))

layout = column(pa, pb, pc, pd_, pe, spacing=0)
open("out.html", "w").write(file_html(layout, INLINE))
